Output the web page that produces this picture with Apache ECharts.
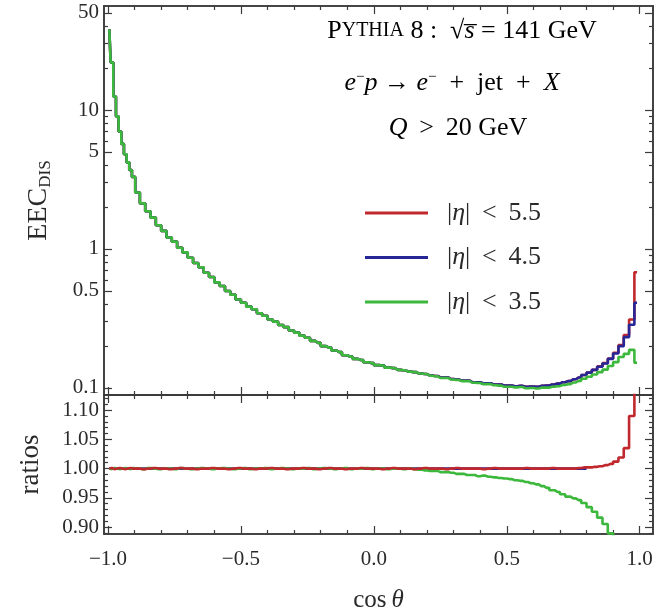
<!DOCTYPE html>
<html>
<head>
<meta charset="utf-8">
<script src="https://cdn.jsdelivr.net/npm/echarts@6/dist/echarts.min.js"></script>
<style>
  html, body { margin: 0; padding: 0; background: #ffffff; }
  #chart { width: 661px; height: 614px; }
</style>
</head>
<body>
<div id="chart"></div>
<script>
// Bin centres in cos(theta): 0.01 wide bins below -0.9, 0.02 wide bins above
const cosTheta = [
  -0.995,-0.985,-0.975,-0.965,-0.955,-0.945,-0.935,-0.925,-0.915,-0.905,
  -0.89,-0.87,-0.85,-0.83,-0.81,
  -0.79,-0.77,-0.75,-0.73,-0.71,-0.69,-0.67,-0.65,-0.63,-0.61,
  -0.59,-0.57,-0.55,-0.53,-0.51,-0.49,-0.47,-0.45,-0.43,-0.41,
  -0.39,-0.37,-0.35,-0.33,-0.31,-0.29,-0.27,-0.25,-0.23,-0.21,
  -0.19,-0.17,-0.15,-0.13,-0.11,-0.09,-0.07,-0.05,-0.03,-0.01,
   0.01, 0.03, 0.05, 0.07, 0.09, 0.11, 0.13, 0.15, 0.17, 0.19,
   0.21, 0.23, 0.25, 0.27, 0.29, 0.31, 0.33, 0.35, 0.37, 0.39,
   0.41, 0.43, 0.45, 0.47, 0.49, 0.51, 0.53, 0.55, 0.57, 0.59,
   0.61, 0.63, 0.65, 0.67, 0.69, 0.71, 0.73, 0.75, 0.77, 0.79,
   0.81, 0.83, 0.85, 0.87, 0.89, 0.91, 0.93, 0.95, 0.97, 0.99
];

// EEC_DIS for |eta| < 4.5
const eecEta45 = [
  38, 22, 12.5, 9.0, 7.0, 5.7, 4.8, 4.2, 3.7, 3.3,
  2.55, 2.13, 1.87, 1.68, 1.48,
  1.35, 1.21, 1.13, 1.02, 0.945, 0.865, 0.792, 0.738, 0.674, 0.628,
  0.575, 0.542, 0.498, 0.469, 0.433, 0.410, 0.385, 0.368, 0.345, 0.331,
  0.311, 0.300, 0.284, 0.274, 0.259, 0.250, 0.238, 0.230, 0.218, 0.211,
  0.200, 0.195, 0.186, 0.181, 0.172, 0.168, 0.162, 0.159, 0.153, 0.151,
  0.146, 0.145, 0.140, 0.139, 0.135, 0.134, 0.131, 0.130, 0.127, 0.126,
  0.123, 0.122, 0.119, 0.119, 0.116, 0.115, 0.113, 0.113, 0.110, 0.110,
  0.108, 0.108, 0.106, 0.106, 0.104, 0.104, 0.103, 0.1035, 0.102, 0.1025,
  0.102, 0.1035, 0.104, 0.106, 0.1075, 0.110, 0.112, 0.1155, 0.119, 0.124,
  0.129, 0.135, 0.142, 0.150, 0.162, 0.177, 0.200, 0.232, 0.285, 0.41
];

// EEC_DIS for |eta| < 5.5
const eecEta55 = [
  38, 22, 12.5, 9.0, 7.0, 5.7, 4.8, 4.2, 3.7, 3.3,
  2.55, 2.13, 1.87, 1.68, 1.48,
  1.35, 1.21, 1.13, 1.02, 0.945, 0.865, 0.792, 0.738, 0.674, 0.628,
  0.575, 0.542, 0.498, 0.469, 0.433, 0.410, 0.385, 0.368, 0.345, 0.331,
  0.311, 0.300, 0.284, 0.274, 0.259, 0.250, 0.238, 0.230, 0.218, 0.211,
  0.200, 0.195, 0.186, 0.181, 0.172, 0.168, 0.162, 0.159, 0.153, 0.151,
  0.146, 0.145, 0.140, 0.139, 0.135, 0.134, 0.131, 0.130, 0.127, 0.126,
  0.123, 0.122, 0.119, 0.119, 0.116, 0.115, 0.113, 0.113, 0.110, 0.110,
  0.108, 0.108, 0.106, 0.106, 0.104, 0.104, 0.103, 0.1035, 0.102, 0.1025,
  0.102, 0.1035, 0.104, 0.106, 0.1075, 0.110, 0.112, 0.1155, 0.119, 0.124,
  0.129, 0.135, 0.143, 0.151, 0.163, 0.179, 0.204, 0.240, 0.311, 0.68
];

// EEC_DIS for |eta| < 3.5
const eecEta35 = [
  38, 22, 12.5, 9.0, 7.0, 5.7, 4.8, 4.2, 3.7, 3.3,
  2.55, 2.13, 1.87, 1.68, 1.48,
  1.35, 1.21, 1.13, 1.02, 0.945, 0.865, 0.792, 0.738, 0.674, 0.628,
  0.575, 0.542, 0.498, 0.469, 0.433, 0.410, 0.385, 0.368, 0.345, 0.331,
  0.311, 0.300, 0.284, 0.274, 0.259, 0.250, 0.238, 0.230, 0.218, 0.211,
  0.200, 0.195, 0.186, 0.181, 0.172, 0.168, 0.162, 0.159, 0.153, 0.151,
  0.146, 0.145, 0.140, 0.139, 0.135, 0.134, 0.131, 0.130, 0.127, 0.126,
  0.1225, 0.1215, 0.118, 0.118, 0.115, 0.114, 0.112, 0.112, 0.109, 0.1085,
  0.1065, 0.1065, 0.1045, 0.104, 0.102, 0.102, 0.101, 0.1015, 0.0995, 0.100,
  0.099, 0.1005, 0.1005, 0.102, 0.103, 0.105, 0.1065, 0.1095, 0.1125, 0.1165,
  0.1205, 0.125, 0.130, 0.1355, 0.144, 0.1535, 0.167, 0.176, 0.188, 0.152
];

// Ratios to the |eta| < 4.5 result
const ratioEta45 = [
  1,1,1,1,1,1,1,1,1,1, 1,1,1,1,1,
  1,1,1,1,1,1,1,1,1,1, 1,1,1,1,1,1,1,1,1,1,
  1,1,1,1,1,1,1,1,1,1, 1,1,1,1,1,1,1,1,1,1,
  1,1,1,1,1,1,1,1,1,1, 1,1,1,1,1,1,1,1,1,1,
  1,1,1,1,1,1,1,1,1,1, 1,1,1,1,1,1,1,1,1,1
];
const ratioEta55 = [
  1.000,1.001,0.999,1.000,1.001,1.000,0.999,1.000,1.001,1.000,
  1.000,0.999,1.000,1.001,1.000,
  1.000,0.999,1.000,1.001,1.000,1.000,0.999,1.000,1.000,1.001,
  1.000,1.000,0.999,1.000,1.001,1.000,1.000,0.999,1.000,1.000,
  1.001,1.000,1.000,0.999,1.000,1.000,1.001,1.000,1.000,0.999,
  1.000,1.001,1.000,1.000,0.999,1.000,1.000,1.001,1.000,1.000,
  1.000,0.999,1.000,1.001,1.000,1.000,1.000,0.999,1.000,1.001,
  1.000,1.000,1.000,0.999,1.000,1.001,1.000,1.000,1.000,1.000,
  0.999,1.000,1.001,1.000,1.000,1.000,1.000,1.000,1.001,1.000,
  1.000,1.000,1.000,1.001,1.000,1.000,1.000,1.000,1.001,1.002,
  1.002,1.003,1.004,1.006,1.008,1.012,1.019,1.035,1.090,1.660
];
const ratioEta35 = [
  1.000,0.999,1.001,1.000,0.999,1.000,1.001,1.000,0.999,1.001,
  1.000,0.999,1.001,1.000,0.999,
  1.000,1.000,0.999,1.001,1.000,0.999,1.000,1.001,1.000,0.999,
  1.000,1.001,1.000,0.999,1.000,1.001,0.999,1.000,1.000,1.001,
  0.999,1.000,1.001,1.000,0.999,1.000,1.000,1.001,0.999,1.000,
  1.001,1.000,0.999,1.000,1.001,0.999,1.000,1.000,1.001,0.999,
  1.000,1.000,0.999,1.000,1.000,0.999,1.000,0.999,0.998,0.997,
  0.996,0.996,0.994,0.994,0.993,0.991,0.991,0.989,0.989,0.987,
  0.988,0.986,0.985,0.984,0.983,0.982,0.980,0.979,0.977,0.975,
  0.973,0.970,0.967,0.963,0.960,0.956,0.952,0.949,0.946,0.941,
  0.934,0.926,0.916,0.905,0.889,0.868,0.835,0.760,0.660,0.370
];

// Axis ranges and tick positions
const X_MIN = -1.015, X_MAX = 1.05;
const xMajorTicks = [-1.0, -0.5, 0.0, 0.5, 1.0];
const xMinorTicks = [-0.9,-0.8,-0.7,-0.6,-0.4,-0.3,-0.2,-0.1,0.1,0.2,0.3,0.4,0.6,0.7,0.8,0.9];
const Y_MIN = 0.089, Y_MAX = 56;
const yMajorTicks = [0.1, 0.5, 1, 5, 10, 50];
const yMinorTicks = [0.2,0.3,0.4,0.6,0.7,0.8,0.9,2,3,4,6,7,8,9,20,30,40];
const R_MIN = 0.888, R_MAX = 1.126;
const rMajorTicks = [0.90, 0.95, 1.00, 1.05, 1.10];
const rMinorTicks = [0.89,0.91,0.92,0.93,0.94,0.96,0.97,0.98,0.99,1.01,1.02,1.03,1.04,1.06,1.07,1.08,1.09,1.11,1.12];

const FONT = '"Liberation Serif", "DejaVu Serif", serif';
const FRAME = '#3b3b3b';
const TEXT = '#2a2a2a';
const C_RED = '#c0282d', C_BLUE = '#262696', C_GREEN = '#3cb83c';
const MAJOR_LEN = 8, MINOR_LEN = 4;

function pairs(xs, ys) { return xs.map((x, i) => [x, ys[i]]); }

function frameAxis(extra, ticks, len, label) {
  const ax = Object.assign({
    axisLine: { show: true, onZero: false, lineStyle: { color: FRAME, width: 1.6 } },
    axisTick: { show: true, inside: true, length: len, customValues: ticks,
                lineStyle: { color: FRAME, width: 1.2 } },
    axisLabel: { show: false },
    splitLine: { show: false },
    minorTick: { show: false }
  }, extra);
  if (label) {
    ax.axisLabel = Object.assign({ show: true, customValues: ticks, fontFamily: FONT,
      fontSize: 21, color: TEXT }, label);
  }
  return ax;
}

const grids = [
  { left: 104, top: 6, width: 549, height: 389, outerBoundsMode: 'none' },
  { left: 104, top: 395, width: 549, height: 139, outerBoundsMode: 'none' }
];

const xBase = g => ({ type: 'value', gridIndex: g, min: X_MIN, max: X_MAX });
const xAxes = [];
[0, 1].forEach(g => {
  const lbl = g === 1 ? { margin: 15, formatter: v => v.toFixed(1).replace('-', '\u2212') } : null;
  xAxes.push(frameAxis(Object.assign(xBase(g), { position: 'bottom',
    name: g === 1 ? '{r|cos\u2009}{i|\u03b8}' : '', nameLocation: 'middle', nameGap: 54,
    nameTextStyle: { rich: {
      r: { fontFamily: FONT, fontSize: 25, color: TEXT },
      i: { fontFamily: FONT, fontSize: 25, fontStyle: 'italic', color: TEXT } } } }),
    xMajorTicks, MAJOR_LEN, lbl));
  xAxes.push(frameAxis(Object.assign(xBase(g), { position: 'bottom' }), xMinorTicks, MINOR_LEN));
  xAxes.push(frameAxis(Object.assign(xBase(g), { position: 'top' }), xMajorTicks, MAJOR_LEN));
  xAxes.push(frameAxis(Object.assign(xBase(g), { position: 'top' }), xMinorTicks, MINOR_LEN));
});

const yTop = () => ({ type: 'log', logBase: 10, gridIndex: 0, min: Y_MIN, max: Y_MAX });
const yRat = () => ({ type: 'value', gridIndex: 1, min: R_MIN, max: R_MAX });
const yAxes = [
  frameAxis(Object.assign(yTop(), { position: 'left',
    name: '{m|EEC}{s|DIS}', nameLocation: 'middle', nameGap: 50, nameRotate: 90,
    nameTextStyle: { rich: {
      m: { fontFamily: FONT, fontSize: 28, color: TEXT, lineHeight: 30 },
      s: { fontFamily: FONT, fontSize: 17, color: TEXT, verticalAlign: 'bottom', lineHeight: 17, padding: [9, 0, 0, 0] } } } }),
    yMajorTicks, MAJOR_LEN, { margin: 5, formatter: v => String(+(+v).toPrecision(3)) }),
  frameAxis(Object.assign(yTop(), { position: 'left' }), yMinorTicks, MINOR_LEN),
  frameAxis(Object.assign(yTop(), { position: 'right' }), yMajorTicks, MAJOR_LEN),
  frameAxis(Object.assign(yTop(), { position: 'right' }), yMinorTicks, MINOR_LEN),
  frameAxis(Object.assign(yRat(), { position: 'left',
    name: 'ratios', nameLocation: 'middle', nameGap: 60, nameRotate: 90,
    nameTextStyle: { fontFamily: FONT, fontSize: 27, color: TEXT } }),
    rMajorTicks, MAJOR_LEN, { margin: 5, formatter: v => (+v).toFixed(2) }),
  frameAxis(Object.assign(yRat(), { position: 'left' }), rMinorTicks, MINOR_LEN),
  frameAxis(Object.assign(yRat(), { position: 'right' }), rMajorTicks, MAJOR_LEN),
  frameAxis(Object.assign(yRat(), { position: 'right' }), rMinorTicks, MINOR_LEN)
];

function histLine(name, color, ys, xIdx, yIdx) {
  return {
    name: name, type: 'line', step: 'middle', xAxisIndex: xIdx, yAxisIndex: yIdx,
    data: pairs(cosTheta, ys), showSymbol: false, symbol: 'none', clip: true,
    lineStyle: { color: color, width: 2.6 }, itemStyle: { color: color },
    emphasis: { disabled: true }, animation: false
  };
}

const LABEL55 = '|\u03b7| < 5.5', LABEL45 = '|\u03b7| < 4.5', LABEL35 = '|\u03b7| < 3.5';

const series = [
  histLine(LABEL55, C_RED, eecEta55, 0, 0),
  histLine(LABEL45, C_BLUE, eecEta45, 0, 0),
  histLine(LABEL35, C_GREEN, eecEta35, 0, 0),
  histLine('ratio 4.5', C_BLUE, ratioEta45, 4, 4),
  histLine('ratio 3.5', C_GREEN, ratioEta35, 4, 4),
  histLine('ratio 5.5', C_RED, ratioEta55, 4, 4)
];

const richText = {
  n: { fontFamily: FONT, fontSize: 26, color: TEXT },
  sc: { fontFamily: FONT, fontSize: 20, color: TEXT },
  i: { fontFamily: FONT, fontSize: 26, fontStyle: 'italic', color: TEXT },
  sup: { fontFamily: FONT, fontSize: 15, color: TEXT, verticalAlign: 'top', lineHeight: 13 }
};

const chart = echarts.init(document.getElementById('chart'), null, { renderer: 'canvas' });
chart.setOption({
  animation: false,
  backgroundColor: '#ffffff',
  grid: grids,
  xAxis: xAxes,
  yAxis: yAxes,
  series: series,
  legend: {
    data: [LABEL55, LABEL45, LABEL35],
    orient: 'vertical', left: 365, top: 200, padding: 0,
    itemWidth: 63, itemHeight: 3, itemGap: 18.5, icon: 'rect',
    selectedMode: false,
    formatter: name => '{p|}{t|' + name.replace('\u03b7', '}{e|\u03b7}{t|').replace(' < ', ' \u2009<\u2009 ') + '}',
    textStyle: { rich: {
      p: { width: 14 },
      t: { fontFamily: FONT, fontSize: 26, color: TEXT, lineHeight: 26 },
      e: { fontFamily: FONT, fontSize: 26, fontStyle: 'italic', color: TEXT, lineHeight: 26 } } }
  },
  graphic: [
    { type: 'text', x: 462, y: 31, style: {
        text: '{n|P}{sc|YTHIA}{n| 8 :  \u221a}{i|s\u0305}{n| = 141 GeV}',
        rich: richText, align: 'center', verticalAlign: 'middle' } },
    { type: 'text', x: 452, y: 83, style: {
        text: '{i|e}{sup|\u2212}{i|p}{n| \u2192 }{i|e}{sup|\u2212}{n|  +  jet  +  }{i|X}',
        rich: richText, align: 'center', verticalAlign: 'middle' } },
    { type: 'text', x: 458, y: 128, style: {
        text: '{i|Q}{n| \u2009>\u2009 20 GeV}',
        rich: richText, align: 'center', verticalAlign: 'middle' } }
  ]
});
</script>
</body>
</html>
